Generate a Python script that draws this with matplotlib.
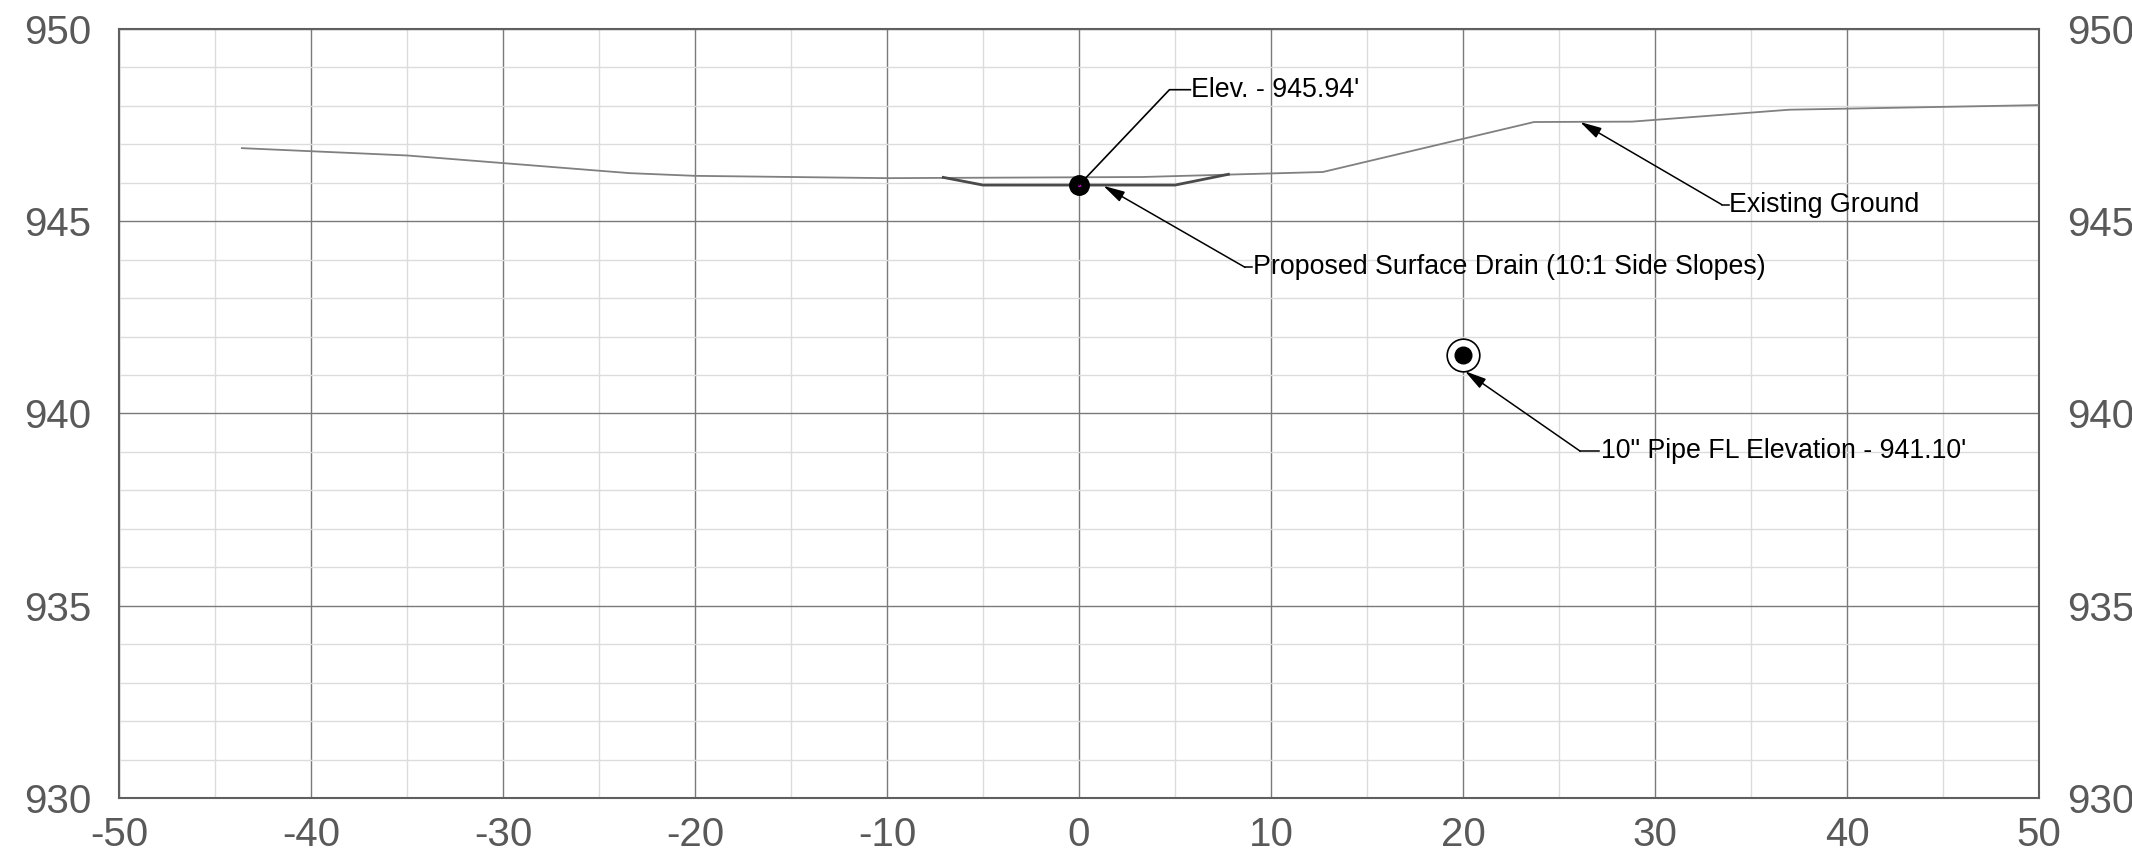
import matplotlib
matplotlib.use("Agg")
import matplotlib.pyplot as plt
from matplotlib.ticker import MultipleLocator

plt.rcParams['font.family'] = ['Liberation Sans', 'DejaVu Sans']
plt.rcParams['axes.unicode_minus'] = False

# ---- data ----
ground_x = [-43.6, -35.0, -23.4, -20.0, -10.0, 3.3, 12.7, 23.7, 28.8, 37.0, 50.0]
ground_y = [946.90, 946.71, 946.25, 946.18, 946.12, 946.15, 946.28, 947.58, 947.59, 947.90, 948.02]

drain_x = [-7.07, -5.0, 5.0, 7.78]
drain_y = [946.14, 945.94, 945.94, 946.22]

drain_station = 0.0
drain_elev = 945.94

pipe_station = 20.0
pipe_fl = 941.10
pipe_diam_in = 10.0
pipe_center = pipe_fl + pipe_diam_in / 24.0

x_ticks = list(range(-50, 51, 10))
y_ticks = [930, 935, 940, 945, 950]

label_elev = "Elev. - 945.94'"
label_drain = "Proposed Surface Drain (10:1 Side Slopes)"
label_ground = "Existing Ground"
label_pipe = "10\" Pipe FL Elevation - 941.10'"

# ---- figure ----
fig = plt.figure(figsize=(21.32, 8.67), dpi=100)
ax = fig.add_axes([0.0558, 0.0796, 0.9006, 0.887])
ax.set_xlim(-50, 50)
ax.set_ylim(930, 950)

ax.xaxis.set_major_locator(MultipleLocator(10))
ax.xaxis.set_minor_locator(MultipleLocator(5))
ax.yaxis.set_major_locator(MultipleLocator(5))
ax.yaxis.set_minor_locator(MultipleLocator(1))
ax.grid(which='minor', color='#dcdcdc', linewidth=1.0, zorder=0)
ax.grid(which='major', color='#7a7a7a', linewidth=1.0, zorder=0.5)
ax.set_axisbelow(True)

for s in ax.spines.values():
    s.set_color('#5f5f5f')
    s.set_linewidth(1.5)

ax.tick_params(which='both', length=0)
ax.tick_params(axis='x', labelsize=29, labelcolor='#595959', pad=13)
ax.tick_params(axis='y', labelsize=29, labelcolor='#595959', pad=20,
               right=False, labelright=True)
ax.set_xticks(x_ticks)
ax.set_yticks(y_ticks)

# lines
ax.plot(ground_x, ground_y, color='#808080', linewidth=1.3, zorder=3)
ax.plot(drain_x, drain_y, color='#4a4a4a', linewidth=2.0, zorder=4)

# markers
ax.plot([drain_station], [drain_elev], 'o', color='black', markersize=14, zorder=6)
ax.plot([drain_station], [drain_elev], 'o', color='magenta', markersize=1.2, zorder=7)
ax.plot([pipe_station], [pipe_center], 'o', mfc='white', mec='black', mew=1.2,
        markersize=23.5, zorder=5)
ax.plot([pipe_station], [pipe_center], 'o', color='black', markersize=12, zorder=6)

txt_kw = dict(fontsize=19.3, color='black', va='center', ha='left', zorder=8)
arr_kw = dict(arrowstyle='-|>,head_length=0.65,head_width=0.17', color='black',
              lw=1.1, shrinkA=0, shrinkB=0, mutation_scale=20)

# Elev leader (no arrow head)
ax.plot([drain_station, 4.71, 5.8], [drain_elev, 948.42, 948.42], color='black', lw=1.2, zorder=7)
ax.text(5.85, 948.42, label_elev, **txt_kw)

# Drain leader
ax.annotate('', xy=(1.27, 945.92), xytext=(8.65, 943.8), arrowprops=arr_kw, zorder=7)
ax.plot([8.65, 9.0], [943.8, 943.8], color='black', lw=1.1, zorder=7)
ax.text(9.05, 943.8, label_drain, **txt_kw)

# Existing ground leader
ax.annotate('', xy=(26.1, 947.58), xytext=(33.48, 945.43), arrowprops=arr_kw, zorder=7)
ax.plot([33.48, 33.83], [945.43, 945.43], color='black', lw=1.1, zorder=7)
ax.text(33.85, 945.43, label_ground, **txt_kw)

# Pipe leader
ax.annotate('', xy=(pipe_station + 0.1, pipe_fl), xytext=(26.1, 939.02), arrowprops=arr_kw, zorder=7)
ax.plot([26.1, 27.1], [939.02, 939.02], color='black', lw=1.1, zorder=7)
ax.text(27.2, 939.02, label_pipe, **txt_kw)

fig.savefig("out.png", dpi=100)
